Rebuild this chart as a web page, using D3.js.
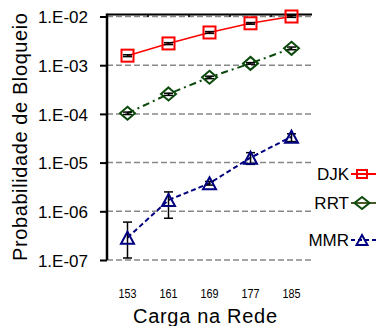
<!DOCTYPE html>
<html>
<head>
<meta charset="utf-8">
<script src="https://cdn.jsdelivr.net/npm/d3@7"></script>
<style>
  body { margin: 0; background: #fff; }
  svg { display: block; font-family: "Liberation Sans", Arial, sans-serif; }
</style>
</head>
<body>
<div id="chart"></div>
<script>
// data
const cargas = ['153', '161', '169', '177', '185'];
const djk = [1.57e-3, 2.8e-3, 4.7e-3, 7.25e-3, 1.0e-2];
const djkLow = [1.5e-3, 2.65e-3, 4.5e-3, 6.95e-3, 0.96e-2];
const djkHigh = [1.64e-3, 2.9e-3, 4.9e-3, 7.5e-3, 1.04e-2];
const rrt = [1.03e-4, 2.57e-4, 5.65e-4, 1.09e-3, 2.22e-3];
const rrtLow = [0.97e-4, 2.4e-4, 5.3e-4, 1.05e-3, 2.08e-3];
const rrtHigh = [1.09e-4, 2.66e-4, 5.95e-4, 1.13e-3, 2.36e-3];
const mmr = [2.87e-7, 1.7e-6, 3.76e-6, 1.26e-5, 3.4e-5];
const mmrLow = [1.1e-7, 7.2e-7, 3.45e-6, 9.2e-6, 2.7e-5];
const mmrHigh = [6.0e-7, 2.5e-6, 4.1e-6, 1.6e-5, 3.9e-5];
const yTicks = [1e-2, 1e-3, 1e-4, 1e-5, 1e-6, 1e-7];
const yTickLabels = ['1.E-02', '1.E-03', '1.E-04', '1.E-05', '1.E-06', '1.E-07'];
const seriesNames = ['DJK', 'RRT', 'MMR'];

const W = 376, H = 326;
const plotL = 107, plotR = 312, plotT = 16.5, plotB = 260;

const svg = d3.select('#chart').append('svg').attr('width', W).attr('height', H);

const x = d3.scaleBand().domain(cargas).range([plotL, plotR]).padding(0);
const y = d3.scaleLog().domain([1e-7, 1e-2]).range([plotB, plotT]);
const cx = d => x(d) + x.bandwidth() / 2;

// grid
svg.append('g').selectAll('line').data(yTicks).enter().append('line')
  .attr('x1', plotL).attr('x2', plotR)
  .attr('y1', d => y(d)).attr('y2', d => y(d))
  .attr('stroke', '#888').attr('stroke-width', 1.5).attr('stroke-dasharray', '6,3');

// top line with band ticks
svg.append('line').attr('x1', plotL).attr('x2', plotR).attr('y1', 14.5).attr('y2', 14.5)
  .attr('stroke', '#000').attr('stroke-width', 2);
svg.append('g').selectAll('line').data(cargas.slice(1)).enter().append('line')
  .attr('x1', d => x(d)).attr('x2', d => x(d)).attr('y1', 14.5).attr('y2', 17)
  .attr('stroke', '#000').attr('stroke-width', 1.5);

// left axis
const yAxis = d3.axisLeft(y).tickValues(yTicks).tickSize(7).tickPadding(12)
  .tickFormat((d, i) => yTickLabels[i]);
const ga = svg.append('g').attr('transform', 'translate(' + plotL + ',0)').call(yAxis);
ga.select('.domain').attr('d', 'M0,' + 13.5 + 'V' + plotB).attr('stroke', '#000').attr('stroke-width', 2.5);
ga.selectAll('.tick line').attr('stroke', '#000').attr('stroke-width', 2);
ga.selectAll('.tick text').attr('font-size', 17).attr('fill', '#000')
  .attr('font-family', '"Liberation Sans", Arial, sans-serif').attr('dy', '0.36em');

// x labels
svg.append('g').selectAll('text').data(cargas).enter().append('text')
  .attr('x', d => cx(d)).attr('y', 297.5)
  .attr('text-anchor', 'middle').attr('font-size', 13)
  .attr('textLength', 18).attr('lengthAdjust', 'spacingAndGlyphs')
  .text(d => d);

svg.append('text').attr('x', 205).attr('y', 322.5).attr('text-anchor', 'middle')
  .attr('font-size', 20).attr('textLength', 144).attr('lengthAdjust', 'spacing')
  .text('Carga na Rede');

svg.append('text').attr('transform', 'translate(27,137) rotate(-90)')
  .attr('text-anchor', 'middle').attr('font-size', 20)
  .attr('textLength', 248).attr('lengthAdjust', 'spacing')
  .text('Probabilidade de Bloqueio');

// markers
function marker(g, type, px, py, w, h, color) {
  if (type === 'square') {
    g.append('rect').attr('x', px - w / 2).attr('y', py - h / 2).attr('width', w).attr('height', h)
      .attr('fill', 'none').attr('stroke', color).attr('stroke-width', 2);
  } else if (type === 'diamond') {
    g.append('path').attr('d', 'M' + px + ',' + (py - h / 2) + 'L' + (px + w / 2) + ',' + py +
      'L' + px + ',' + (py + h / 2) + 'L' + (px - w / 2) + ',' + py + 'Z')
      .attr('fill', 'none').attr('stroke', color).attr('stroke-width', 2);
  } else {
    g.append('path').attr('d', 'M' + px + ',' + (py - h / 2) + 'L' + (px + w / 2) + ',' + (py + h / 2) +
      'L' + (px - w / 2) + ',' + (py + h / 2) + 'Z')
      .attr('fill', 'none').attr('stroke', color).attr('stroke-width', 2);
  }
}

const series = [
  { name: seriesNames[0], vals: djk, lo: djkLow, hi: djkHigh, color: '#ff0000', dash: null, type: 'square', mw: 12, mh: 12 },
  { name: seriesNames[1], vals: rrt, lo: rrtLow, hi: rrtHigh, color: '#0b4a0b', dash: '7,4,2,4', type: 'diamond', mw: 15, mh: 13 },
  { name: seriesNames[2], vals: mmr, lo: mmrLow, hi: mmrHigh, color: '#000080', dash: '5,3', type: 'triangle', mw: 13, mh: 12 }
];

const line = d3.line().x((d, i) => cx(cargas[i])).y(d => y(d));

series.forEach(s => {
  const g = svg.append('g');
  g.append('path').datum(s.vals).attr('d', line).attr('fill', 'none')
    .attr('stroke', s.color).attr('stroke-width', s.type === 'square' ? 1.5 : 2)
    .attr('stroke-dasharray', s.dash);
  // error bars
  s.vals.forEach((v, i) => {
    const px = cx(cargas[i]);
    g.append('line').attr('x1', px).attr('x2', px).attr('y1', y(s.hi[i])).attr('y2', y(s.lo[i]))
      .attr('stroke', '#000').attr('stroke-width', 1.5);
    [s.hi[i], s.lo[i]].forEach(e => {
      g.append('line').attr('x1', px - 4.5).attr('x2', px + 4.5).attr('y1', y(e)).attr('y2', y(e))
        .attr('stroke', '#000').attr('stroke-width', 1.5);
    });
  });
  s.vals.forEach((v, i) => marker(g, s.type, cx(cargas[i]), y(v), s.mw, s.mh, s.color));
});

// legend
const legY = [174, 203, 240];
const legend = svg.append('g');
series.forEach((s, i) => {
  legend.append('text').attr('x', 349).attr('y', legY[i] + 6).attr('text-anchor', 'end')
    .attr('font-size', 17).text(s.name);
  legend.append('line').attr('x1', 351).attr('x2', 376).attr('y1', legY[i]).attr('y2', legY[i])
    .attr('stroke', i === 1 ? '#4a5a2a' : s.color).attr('stroke-width', 2)
    .attr('stroke-dasharray', i === 2 ? '4,3' : null);
  const lw = [10, 15, 11][i], lh = [8, 12, 10][i];
  marker(legend, s.type, 362, legY[i], lw, lh, s.color);
});
</script>
</body>
</html>
